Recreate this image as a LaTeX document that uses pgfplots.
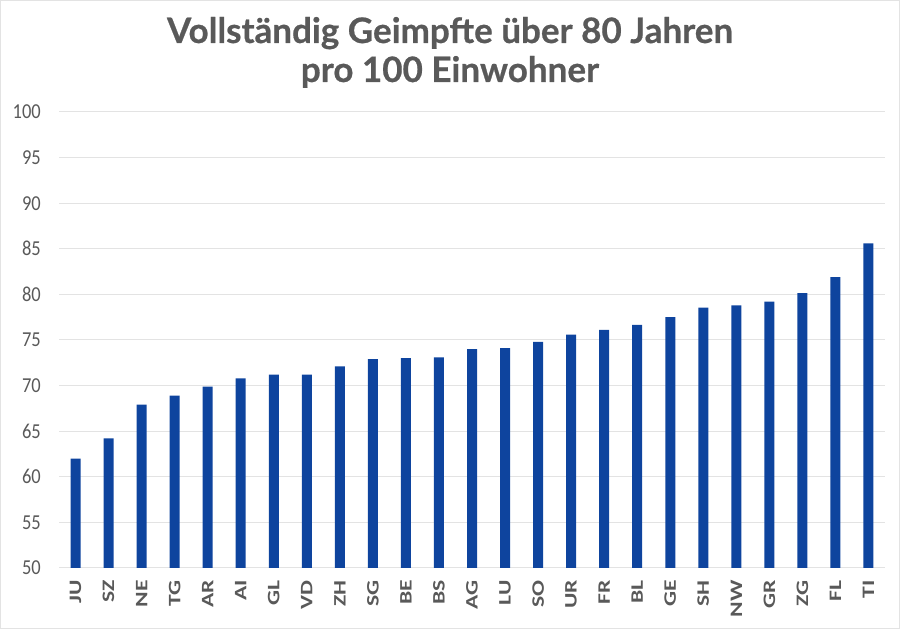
\documentclass[border=0pt]{standalone}
\usepackage{fontspec}
\setmainfont{Carlito}
\newfontfamily\titlefont{Lato}[BoldFeatures={FakeBold=0.6}]
\usepackage{graphicx}
\usepackage{pgfplots}
\pgfplotsset{compat=1.18}
\definecolor{barblue}{HTML}{0E449E}
\definecolor{txtgray}{HTML}{595959}
\definecolor{gridgray}{HTML}{E3E3E3}
\newcommand{\hs}[1]{\scalebox{1.35}[1]{#1}}
\begin{document}
\begin{tikzpicture}[x=1bp,y=1bp]
\path[draw=gridgray, line width=1.2bp] (0.6,0.6) rectangle (899.4,628.4);
\begin{axis}[
  at={(59bp,61bp)}, anchor=south west,
  width=826bp, height=456bp, scale only axis,
  xmin=-0.5, xmax=24.5, ymin=50, ymax=100,
  ytick={50,55,...,100},
  xtick={0,...,24},
  xticklabels={\hs{JU},\hs{SZ},\hs{NE},\hs{TG},\hs{AR},\hs{AI},\hs{GL},\hs{VD},\hs{ZH},\hs{SG},\hs{BE},\hs{BS},\hs{AG},\hs{LU},\hs{SO},\hs{UR},\hs{FR},\hs{BL},\hs{GE},\hs{SH},\hs{NW},\hs{GR},\hs{ZG},\hs{FL},\hs{TI}},
  axis line style={draw=none},
  major tick length=0pt,
  ymajorgrids, grid style={gridgray, line width=1bp},
  yticklabel={\scalebox{1}[1.15]{\pgfmathprintnumber{\tick}}},
  yticklabel style={font=\fontsize{18.5bp}{22bp}\selectfont, text=txtgray, inner sep=0pt, anchor=east},
  yticklabel shift=18bp,
  /pgf/number format/assume math mode=true,
  xticklabel style={font=\fontsize{17.5bp}{20bp}\selectfont\bfseries, text=txtgray, rotate=90, anchor=east, inner sep=0pt},
  xticklabel shift=12bp,
  clip=false,
]
\addplot[ybar, bar width=10bp, fill=barblue, draw=none, bar shift=0pt] coordinates {
(0,62.0) (1,64.2) (2,67.9) (3,68.9) (4,69.9) (5,70.8) (6,71.2) (7,71.2) (8,72.1) (9,72.9) (10,73.0) (11,73.1) (12,74.0) (13,74.1) (14,74.8) (15,75.6) (16,76.1) (17,76.65) (18,77.5) (19,78.55) (20,78.8) (21,79.2) (22,80.15) (23,81.9) (24,85.6)
};
\end{axis}
\node[font=\titlefont\bfseries\fontsize{35bp}{40bp}\selectfont, text=txtgray, anchor=base] at (450bp,586bp) {Vollständig Geimpfte über 80 Jahren};
\node[font=\titlefont\bfseries\fontsize{35bp}{40bp}\selectfont, text=txtgray, anchor=base] at (450bp,547bp) {pro 100 Einwohner};
\end{tikzpicture}
\end{document}
